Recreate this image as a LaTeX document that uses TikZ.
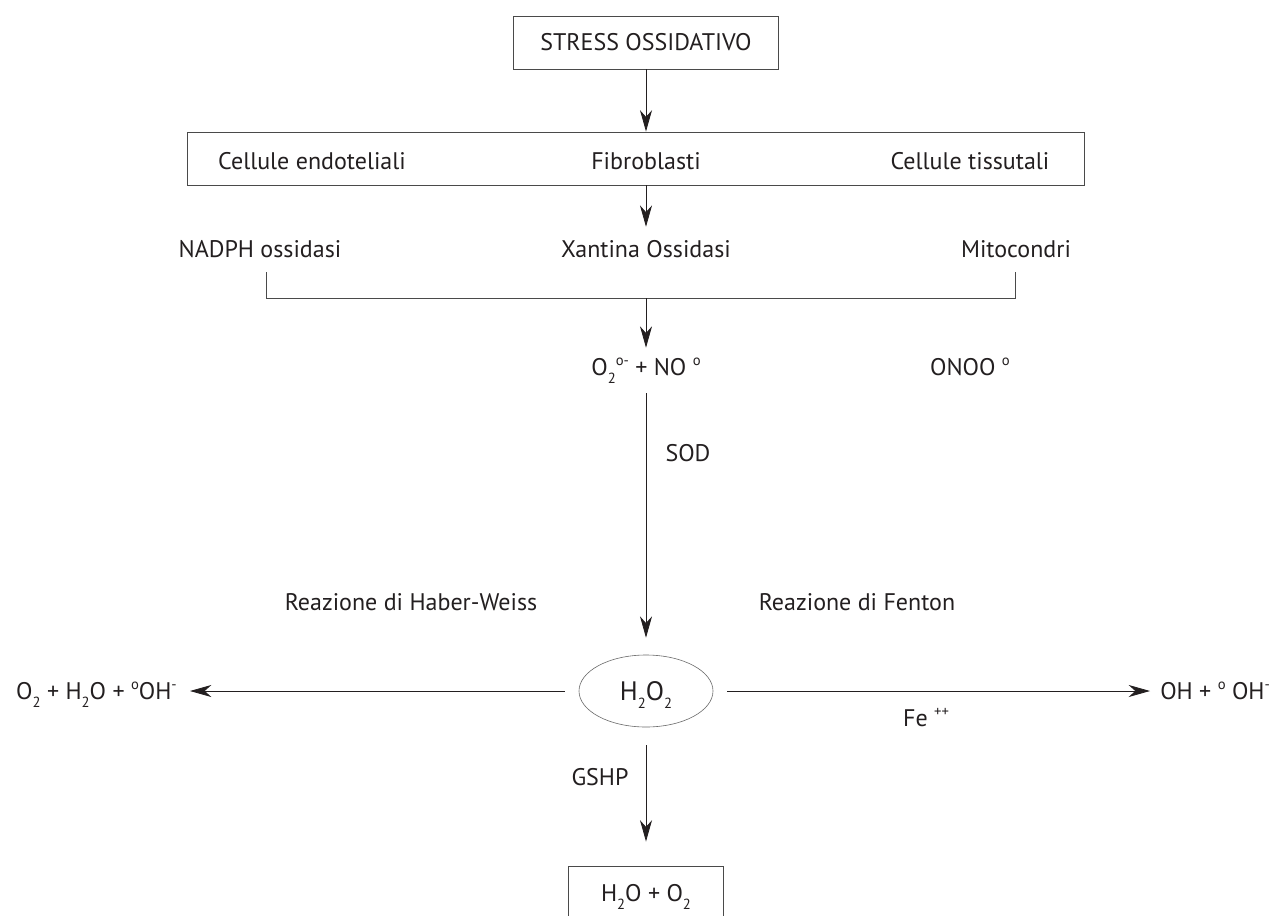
\documentclass[tikz,border=0pt]{standalone}
\usepackage{fontspec}
\setmainfont{PT Sans}
\usetikzlibrary{arrows.meta,shapes.geometric}
\definecolor{ink}{HTML}{231F20}
\definecolor{boxc}{HTML}{4A4A4A}
\definecolor{ellc}{HTML}{6A6A6A}
\newcommand\lo[1]{\raisebox{-0.32em}{\fontsize{11}{11}\selectfont #1}}
\newcommand\hi[1]{\raisebox{0.42em}{\fontsize{11}{11}\selectfont #1}}
\begin{document}
\begin{tikzpicture}[x=0.75pt,y=-0.75pt,
  every node/.style={inner sep=0pt, text height=12.6pt, text depth=0pt,
    font=\fontsize{18}{21}\selectfont, text=ink},
  boxnode/.style={draw=boxc, line width=0.7pt},
  arr/.style={draw=ink, line width=0.6pt, -{Stealth[length=16pt,width=9pt,inset=5pt]}},
  ln/.style={draw=boxc, line width=0.6pt}]
\useasboundingbox (0,0) rectangle (1272,915);
\clip (0,0) rectangle (1272,915);
\fill[white] (0,0) rectangle (1272,915);

% boxes and texts
\node[boxnode, minimum width=198.75pt, minimum height=39.75pt] (stress) at (646,42.5) {STRESS OSSIDATIVO};
\node[boxnode, minimum width=672.75pt, minimum height=39.75pt] (cellsbox) at (635.5,158.5) {};
\node (endo) at (312,161) {Cellule endoteliali};
\node (fibro) at (646,161) {Fibroblasti};
\node (tiss) at (970,161) {Cellule tissutali};
\node (nadph) at (260,249) {NADPH ossidasi};
\node (xant) at (646,249) {Xantina Ossidasi};
\node (mito) at (1016,249) {Mitocondri};
\coordinate (blt) at (266,272);
\coordinate (blb) at (266,298);
\coordinate (brb) at (1015,298);
\coordinate (brt) at (1015,272);
\coordinate (bm) at (646,298);
\node (o2) at (646,367) {O\lo{2}\hi{o-} + NO \hi{o}};
\node (onoo) at (970,367) {ONOO \hi{o}};
\node (sod) at (688,453) {SOD};
\node (haber) at (411,602) {Reazione di Haber-Weiss};
\node (fenton) at (857,602) {Reazione di Fenton};
\node[draw=ellc, line width=0.45pt, ellipse, minimum width=100.5pt, minimum height=54pt,
  font=\fontsize{20}{22}\selectfont, text height=14pt] (h2o2) at (646,691) {H\lo{2}O\lo{2}};
\node[anchor=east] (left) at (177,691) {O\lo{2} + H\lo{2}O + \hi{o}OH\hi{-}};
\node[anchor=west] (right) at (1160,691) {OH + \hi{o} OH\hi{-}};
\node (fe) at (926,718) {Fe \hi{++}};
\node (gshp) at (600,777) {GSHP};
\node[boxnode, minimum width=116.25pt, minimum height=40.5pt] (water) at (646,893) {H\lo{2}O + O\lo{2}};

% connectors
\draw[arr] (stress.south) -- (stress.south |- cellsbox.north);
\draw[arr, shorten >=10.2pt] (fibro |- cellsbox.south) -- (xant.north);
\draw[ln] (blt) -- (blb) -- (brb) -- (brt);
\draw[arr, shorten >=8pt] (bm) -- (bm |- o2.north);
\draw[arr, shorten <=13.2pt, shorten >=12.75pt] (o2.south) -- (h2o2.north);
\draw[arr, shorten <=10.5pt, shorten >=9.75pt] (h2o2.west) -- (left.east);
\draw[arr, shorten <=10.5pt, shorten >=7.5pt] (h2o2.east) -- (right.west);
\draw[arr, shorten <=13.5pt, shorten >=18pt] (h2o2.south) -- (water.north);
\end{tikzpicture}
\end{document}
